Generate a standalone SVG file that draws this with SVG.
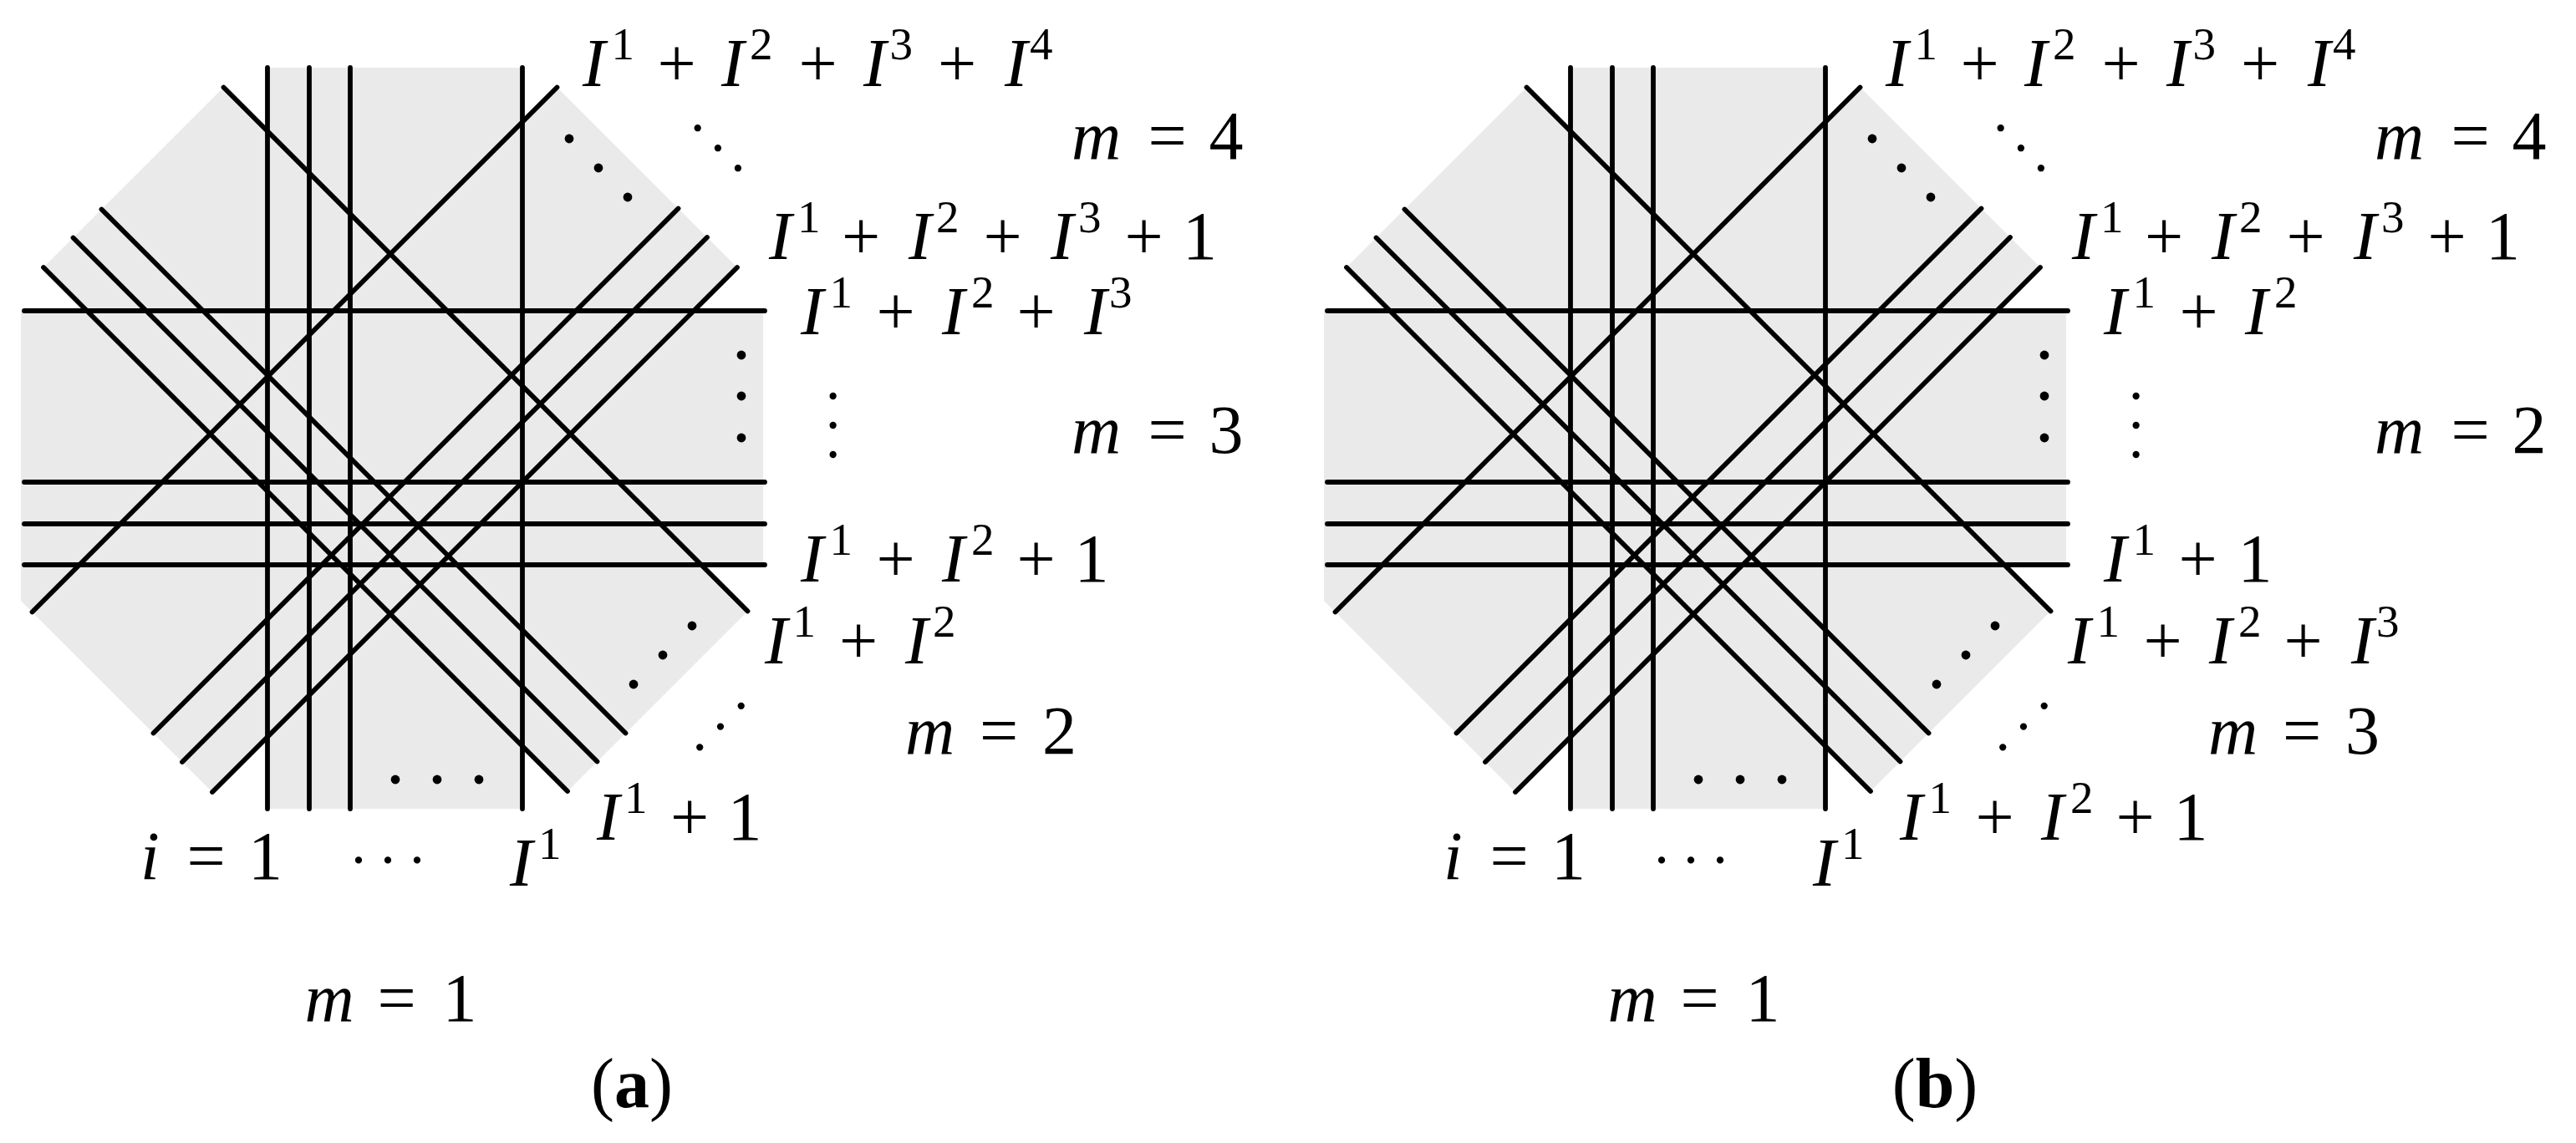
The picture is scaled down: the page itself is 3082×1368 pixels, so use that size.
<svg xmlns="http://www.w3.org/2000/svg" xmlns:xlink="http://www.w3.org/1999/xlink" width="3082" height="1368" viewBox="0 0 3082 1368">
<style>
.bg{fill:#ffffff}
.fill{fill:#eaeaea;stroke:none}
.ln{stroke:#000;stroke-width:5.8;stroke-linecap:round;fill:none}
.bd{fill:#000}
.tx{font-family:"Liberation Serif","Times New Roman",serif;font-size:82px;fill:#000}
.i{font-style:italic}
.s{font-size:55px}
.d{font-family:"Liberation Serif","Times New Roman",serif;font-size:70px;fill:#000;letter-spacing:17.5px}
.cap{font-family:"Liberation Serif","Times New Roman",serif;font-size:84px;fill:#000;text-anchor:middle}
.b{font-weight:bold}
</style>
<defs>
<g id="geom">
  <polygon class="fill" points="320,81 625,81 625,146 666.5,104.5 882,320 830,372 913,372 913,676 839,676 894.5,731.5 679,947 625,893 625,968 320,968 320,882 254,948 38.5,732.5 25,719 25,372 104,372 52,320 267.5,104.5 320,157"/>
  <g class="ln">
    <line x1="320" y1="81" x2="320" y2="968"/>
    <line x1="370" y1="81" x2="370" y2="968"/>
    <line x1="419" y1="81" x2="419" y2="968"/>
    <line x1="625" y1="81" x2="625" y2="968"/>
    <line x1="29" y1="372" x2="915" y2="372"/>
    <line x1="29" y1="577" x2="915" y2="577"/>
    <line x1="29" y1="627" x2="915" y2="627"/>
    <line x1="29" y1="676" x2="915" y2="676"/>
    <line x1="267.5" y1="104.5" x2="894.5" y2="731.5"/>
    <line x1="121.5" y1="250.5" x2="748.5" y2="877.5"/>
    <line x1="87.5" y1="284.5" x2="714.5" y2="911.5"/>
    <line x1="52" y1="320" x2="679" y2="947"/>
    <line x1="666.5" y1="104.5" x2="38.5" y2="732.5"/>
    <line x1="811.5" y1="249.5" x2="183.5" y2="877.5"/>
    <line x1="846" y1="284" x2="218" y2="912"/>
    <line x1="882" y1="320" x2="254" y2="948"/>
  </g>
  <g class="bd">
    <circle cx="681" cy="166" r="5.4"/><circle cx="716" cy="201" r="5.4"/><circle cx="751" cy="236" r="5.4"/>
    <circle cx="887" cy="425" r="5.4"/><circle cx="887" cy="474" r="5.4"/><circle cx="887" cy="524" r="5.4"/>
    <circle cx="828" cy="749" r="5.4"/><circle cx="793" cy="784" r="5.4"/><circle cx="758" cy="819" r="5.4"/>
    <circle cx="473" cy="933" r="5.4"/><circle cx="523" cy="933" r="5.4"/><circle cx="573" cy="933" r="5.4"/>
  </g>
</g>
</defs>
<rect class="bg" x="0" y="0" width="3082" height="1368"/>

<g id="panel-a">
  <use href="#geom" xlink:href="#geom"/>
  <g id="labels-a">
    <text class="tx"><tspan class="i" x="697" y="103">I</tspan><tspan class="s" x="731.5" y="71">1</tspan><tspan x="786.5" y="103">+</tspan><tspan class="i" x="863" y="103">I</tspan><tspan class="s" x="897" y="71">2</tspan><tspan x="955.5" y="103">+</tspan><tspan class="i" x="1033" y="103">I</tspan><tspan class="s" x="1064.5" y="71">3</tspan><tspan x="1122" y="103">+</tspan><tspan class="i" x="1202" y="103">I</tspan><tspan class="s" x="1232" y="71">4</tspan></text>
    <text class="tx"><tspan class="i" x="920" y="310">I</tspan><tspan class="s" x="954" y="278">1</tspan><tspan x="1007" y="310">+</tspan><tspan class="i" x="1087" y="310">I</tspan><tspan class="s" x="1120" y="278">2</tspan><tspan x="1176.5" y="310">+</tspan><tspan class="i" x="1257" y="310">I</tspan><tspan class="s" x="1290" y="278">3</tspan><tspan x="1345.5" y="310">+</tspan><tspan x="1415" y="310">1</tspan></text>
    <text class="tx"><tspan class="i" x="958" y="400">I</tspan><tspan class="s" x="992.5" y="368">1</tspan><tspan x="1048.5" y="400">+</tspan><tspan class="i" x="1127" y="400">I</tspan><tspan class="s" x="1162" y="368">2</tspan><tspan x="1216.5" y="400">+</tspan><tspan class="i" x="1297" y="400">I</tspan><tspan class="s" x="1327" y="368">3</tspan></text>
    <text class="tx"><tspan class="i" x="958" y="696">I</tspan><tspan class="s" x="992.5" y="664">1</tspan><tspan x="1048.5" y="696">+</tspan><tspan class="i" x="1127" y="696">I</tspan><tspan class="s" x="1162" y="664">2</tspan><tspan x="1216.5" y="696">+</tspan><tspan x="1285.5" y="696">1</tspan></text>
    <text class="tx"><tspan class="i" x="915" y="794">I</tspan><tspan class="s" x="948.5" y="762">1</tspan><tspan x="1004" y="794">+</tspan><tspan class="i" x="1083" y="794">I</tspan><tspan class="s" x="1116" y="762">2</tspan></text>
    <text class="tx"><tspan class="i" x="714" y="1005">I</tspan><tspan class="s" x="747" y="973">1</tspan><tspan x="802" y="1005">+</tspan><tspan x="870.5" y="1005">1</tspan></text>
    <text class="tx"><tspan class="i" x="610" y="1060">I</tspan><tspan class="s" x="644" y="1028">1</tspan></text>
    <text class="tx"><tspan class="i" x="168" y="1052">i</tspan><tspan x="223.5" y="1052">=</tspan><tspan x="297" y="1052">1</tspan></text>
    <text class="tx"><tspan class="i" x="1282" y="190">m</tspan><tspan x="1373.5" y="190">=</tspan><tspan x="1446.5" y="190">4</tspan></text>
    <text class="tx"><tspan class="i" x="1282" y="542">m</tspan><tspan x="1373.5" y="542">=</tspan><tspan x="1446.5" y="542">3</tspan></text>
    <text class="tx"><tspan class="i" x="1083" y="902">m</tspan><tspan x="1172" y="902">=</tspan><tspan x="1247" y="902">2</tspan></text>
    <text class="tx"><tspan class="i" x="364.5" y="1222">m</tspan><tspan x="451.5" y="1222">=</tspan><tspan x="529.5" y="1222">1</tspan></text>
    <text class="d" transform="translate(835,153) rotate(45)" x="-8.75" y="3.5" style="letter-spacing:16.5px">...</text>
    <text class="d" transform="translate(996,474) rotate(90)" x="-8.75" y="3.5">...</text>
    <text class="d" transform="translate(837,894) rotate(-45)" x="-8.75" y="3.5">...</text>
    <text class="d" transform="translate(429,1029)" x="-8.75" y="3.5">...</text>
    <text class="cap" x="756" y="1325">(<tspan class="b">a</tspan>)</text>
  </g>
</g>

<g id="panel-b">
  <use href="#geom" xlink:href="#geom" transform="translate(1559,0)"/>
  <g id="labels-b">
    <text class="tx"><tspan class="i" x="2256" y="103">I</tspan><tspan class="s" x="2290.5" y="71">1</tspan><tspan x="2345.5" y="103">+</tspan><tspan class="i" x="2422" y="103">I</tspan><tspan class="s" x="2456" y="71">2</tspan><tspan x="2514.5" y="103">+</tspan><tspan class="i" x="2592" y="103">I</tspan><tspan class="s" x="2623.5" y="71">3</tspan><tspan x="2681" y="103">+</tspan><tspan class="i" x="2761" y="103">I</tspan><tspan class="s" x="2791" y="71">4</tspan></text>
    <text class="tx"><tspan class="i" x="2479" y="310">I</tspan><tspan class="s" x="2513" y="278">1</tspan><tspan x="2566" y="310">+</tspan><tspan class="i" x="2646" y="310">I</tspan><tspan class="s" x="2679" y="278">2</tspan><tspan x="2735.5" y="310">+</tspan><tspan class="i" x="2816" y="310">I</tspan><tspan class="s" x="2849" y="278">3</tspan><tspan x="2904.5" y="310">+</tspan><tspan x="2974" y="310">1</tspan></text>
    <text class="tx"><tspan class="i" x="2517" y="400">I</tspan><tspan class="s" x="2551.5" y="368">1</tspan><tspan x="2607.5" y="400">+</tspan><tspan class="i" x="2686" y="400">I</tspan><tspan class="s" x="2721" y="368">2</tspan></text>
    <text class="tx"><tspan class="i" x="2517" y="696">I</tspan><tspan class="s" x="2551.5" y="664">1</tspan><tspan x="2606.5" y="696">+</tspan><tspan x="2677.5" y="696">1</tspan></text>
    <text class="tx"><tspan class="i" x="2474" y="794">I</tspan><tspan class="s" x="2508.5" y="762">1</tspan><tspan x="2564.5" y="794">+</tspan><tspan class="i" x="2643" y="794">I</tspan><tspan class="s" x="2678" y="762">2</tspan><tspan x="2732.5" y="794">+</tspan><tspan class="i" x="2813" y="794">I</tspan><tspan class="s" x="2843" y="762">3</tspan></text>
    <text class="tx"><tspan class="i" x="2273" y="1005">I</tspan><tspan class="s" x="2307.5" y="973">1</tspan><tspan x="2363.5" y="1005">+</tspan><tspan class="i" x="2442" y="1005">I</tspan><tspan class="s" x="2477" y="973">2</tspan><tspan x="2531.5" y="1005">+</tspan><tspan x="2600.5" y="1005">1</tspan></text>
    <text class="tx"><tspan class="i" x="2169" y="1060">I</tspan><tspan class="s" x="2203" y="1028">1</tspan></text>
    <text class="tx"><tspan class="i" x="1727" y="1052">i</tspan><tspan x="1782.5" y="1052">=</tspan><tspan x="1856" y="1052">1</tspan></text>
    <text class="tx"><tspan class="i" x="2841" y="190">m</tspan><tspan x="2932.5" y="190">=</tspan><tspan x="3005.5" y="190">4</tspan></text>
    <text class="tx"><tspan class="i" x="2841" y="542">m</tspan><tspan x="2932.5" y="542">=</tspan><tspan x="3005.5" y="542">2</tspan></text>
    <text class="tx"><tspan class="i" x="2642" y="902">m</tspan><tspan x="2731" y="902">=</tspan><tspan x="2806" y="902">3</tspan></text>
    <text class="tx"><tspan class="i" x="1923.5" y="1222">m</tspan><tspan x="2010.5" y="1222">=</tspan><tspan x="2088.5" y="1222">1</tspan></text>
    <text class="d" transform="translate(2394,153) rotate(45)" x="-8.75" y="3.5" style="letter-spacing:16.5px">...</text>
    <text class="d" transform="translate(2555,474) rotate(90)" x="-8.75" y="3.5">...</text>
    <text class="d" transform="translate(2396,894) rotate(-45)" x="-8.75" y="3.5">...</text>
    <text class="d" transform="translate(1988,1029)" x="-8.75" y="3.5">...</text>
    <text class="cap" x="2315" y="1325">(<tspan class="b">b</tspan>)</text>
  </g>
</g>
</svg>
